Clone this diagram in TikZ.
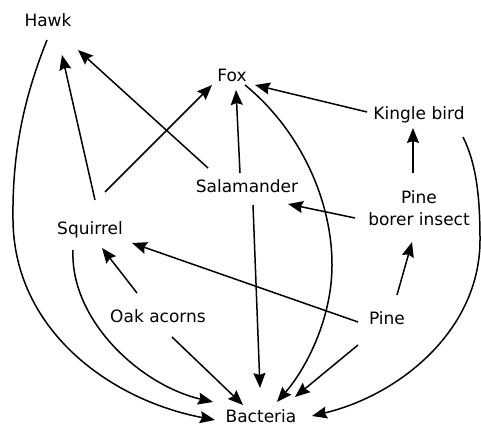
\documentclass[tikz,border=0pt]{standalone}
\usepackage{fontspec}
\setmainfont{DejaVu Sans}
\usetikzlibrary{arrows.meta}

\begin{document}
\begin{tikzpicture}[x=1pt, y=1pt,
    lbl/.style={inner sep=0pt, font=\fontsize{17}{22.5}\selectfont, text height=12pt, text depth=0pt},
    twoline/.style={inner sep=0pt, font=\fontsize{17}{22.5}\selectfont, align=center},
    arr/.style={line width=1.5pt, -{Stealth[length=15pt, width=12pt, inset=2pt]}}]
  \useasboundingbox (0,0) rectangle (481,430);
  %--- Organisms ---
  \node[lbl] (hawk) at (48,409) {Hawk};
  \node[lbl] (fox) at (232,354) {Fox};
  \node[lbl] (kingle) at (419,316) {Kingle bird};
  \node[lbl] (salam) at (247,243) {Salamander};
  \node[twoline] (borer) at (419,222) {Pine\\borer insect};
  \node[lbl] (squirrel) at (90,201) {Squirrel};
  \node[lbl] (oak) at (158,113) {Oak acorns};
  \node[lbl] (pine) at (387,111) {Pine};
  \node[lbl] (bact) at (261,13) {Bacteria};
  %--- Feeding links ---
  \draw[arr] ([shift={(5,29)}]squirrel.center) -- ([shift={(14,-34)}]hawk.center);
  \draw[arr] ([shift={(-39,19)}]salam.center) -- ([shift={(30,-29)}]hawk.center);
  \draw[arr] ([shift={(15,37)}]squirrel.center) -- ([shift={(-20,-9)}]fox.center);
  \draw[arr] ([shift={(-7,14)}]salam.center) -- ([shift={(4,-14)}]fox.center);
  \draw[arr] ([shift={(-52,2)}]kingle.center) -- ([shift={(23,-9)}]fox.center);
  \draw[arr] ([shift={(-6,35)}]borer.center) -- ([shift={(-6,-14)}]kingle.center);
  \draw[arr] ([shift={(-64,-10)}]borer.center) -- ([shift={(41,-17)}]salam.center);
  \draw[arr] ([shift={(10,24)}]pine.center) -- ([shift={(-7,-34)}]borer.center);
  \draw[arr] ([shift={(-29,-3)}]pine.center) -- ([shift={(42,-14)}]squirrel.center);
  \draw[arr] ([shift={(-21,24)}]oak.center) -- ([shift={(12,-19)}]squirrel.center);
  %--- Decomposers ---
  \draw[arr] ([shift={(-1,-19)}]hawk.center) .. controls (25,335) and (12,280) .. (13,210)
    .. controls (14,100) and (110,30) .. ([shift={(-46,-3)}]bact.center);
  \draw[arr] ([shift={(-17,-21)}]squirrel.center) .. controls (70,110) and (140,45) .. ([shift={(-48,15)}]bact.center);
  \draw[arr] ([shift={(14,-20)}]oak.center) -- ([shift={(-18,12)}]bact.center);
  \draw[arr] ([shift={(6,-18)}]salam.center) -- ([shift={(-1,29)}]bact.center);
  \draw[arr] ([shift={(13,-9)}]fox.center) .. controls (300,300) and (332,230) .. (332,165)
    .. controls (332,110) and (305,60) .. ([shift={(16,15)}]bact.center);
  \draw[arr] ([shift={(-29,-26)}]pine.center) -- ([shift={(34,20)}]bact.center);
  \draw[arr] ([shift={(44,-23)}]kingle.center) .. controls (477,265) and (480,230) .. (480,190)
    .. controls (480,100) and (400,35) .. ([shift={(51,1)}]bact.center);
\end{tikzpicture}
\end{document}
